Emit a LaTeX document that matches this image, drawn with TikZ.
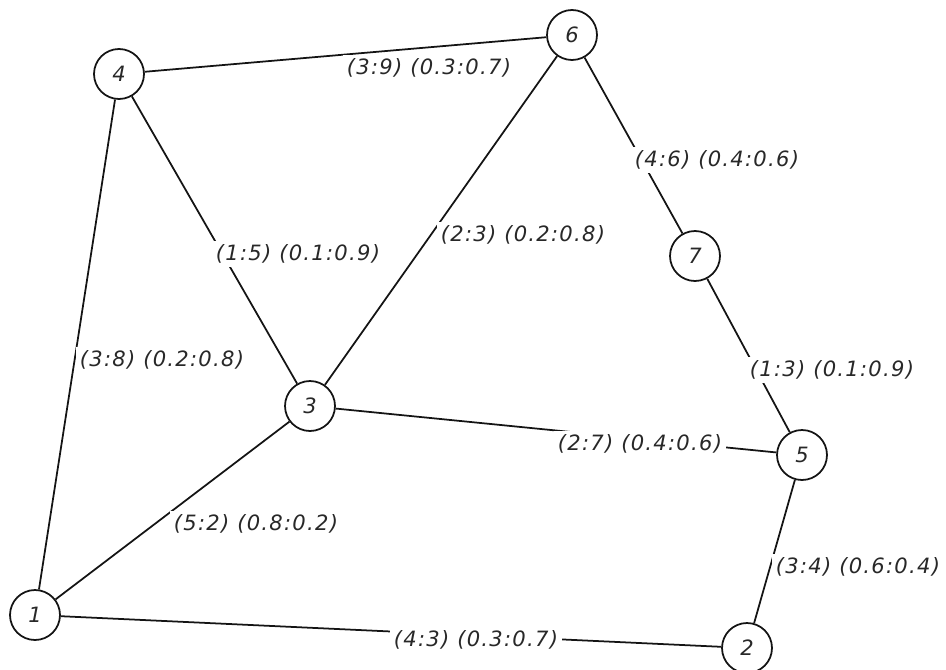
\documentclass[tikz,border=0pt]{standalone}
\usepackage{fontspec}
\setmainfont{DejaVu Sans}
\newfontfamily\labfont[LetterSpace=6]{DejaVu Sans}
\usepackage{xcolor}
\definecolor{figline}{RGB}{20,20,20}
\definecolor{figtext}{RGB}{40,40,40}
\tikzset{
  vtx/.style ={circle, draw=figline, line width=1pt, minimum size=1cm, inner sep=0pt,
               text=figtext, font=\itshape\fontsize{12}{14}\selectfont},
  edg/.style ={draw=figline, line width=1pt},
  lab/.style ={fill=white, inner sep=2pt, text=figtext,
               font=\labfont\itshape\fontsize{12}{14}\selectfont},
}

\begin{document}
\begin{tikzpicture}[x=0.02cm,y=-0.02cm]
  \useasboundingbox (0,0) rectangle (946,669);
  % vertices
  \node[vtx] (v1) at (35,615) {1};
  \node[vtx] (v2) at (747,648) {2};
  \node[vtx] (v3) at (310,406) {3};
  \node[vtx] (v4) at (119,74) {4};
  \node[vtx] (v5) at (802,455) {5};
  \node[vtx] (v6) at (572,35) {6};
  \node[vtx] (v7) at (695,256) {7};
  % edges
  \draw[edg] (v4) -- (v6);
  \draw[edg] (v4) -- (v1);
  \draw[edg] (v4) -- (v3);
  \draw[edg] (v6) -- (v3);
  \draw[edg] (v6) -- (v7);
  \draw[edg] (v7) -- (v5);
  \draw[edg] (v3) -- (v5);
  \draw[edg] (v3) -- (v1);
  \draw[edg] (v1) -- (v2);
  \draw[edg] (v5) -- (v2);
  % edge labels
  \node[lab] (l46) at (429,68) {(3:9) (0.3:0.7)};
  \node[lab] (l14) at (162,360) {(3:8) (0.2:0.8)};
  \node[lab] (l34) at (298,254) {(1:5) (0.1:0.9)};
  \node[lab] (l36) at (523,235) {(2:3) (0.2:0.8)};
  \node[lab] (l67) at (717,160) {(4:6) (0.4:0.6)};
  \node[lab] (l57) at (832,370) {(1:3) (0.1:0.9)};
  \node[lab] (l35) at (640,444) {(2:7) (0.4:0.6)};
  \node[lab] (l13) at (256,524) {(5:2) (0.8:0.2)};
  \node[lab] (l12) at (476,640) {(4:3) (0.3:0.7)};
  \node[lab] (l25) at (858,567) {(3:4) (0.6:0.4)};
\end{tikzpicture}
\end{document}
